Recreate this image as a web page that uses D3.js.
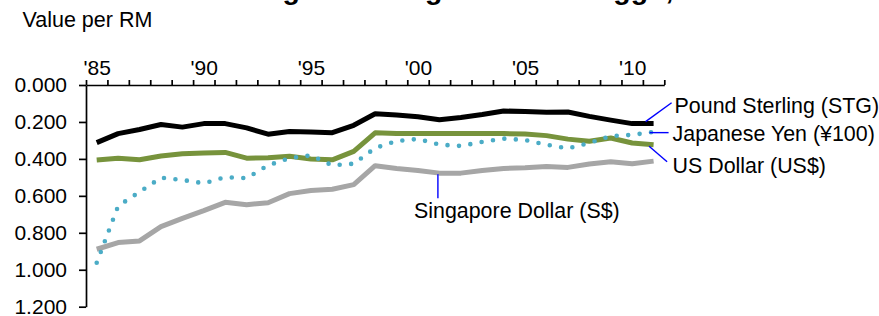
<!DOCTYPE html>
<html>
<head>
<meta charset="utf-8">
<title>Value per RM</title>
<script src="https://cdn.jsdelivr.net/npm/d3@7/dist/d3.min.js"></script>
<style>
  body { margin: 0; background: #fff; }
  svg { display: block; font-family: "Liberation Sans", Arial, sans-serif; }
  .axis path, .axis line { stroke: #000; stroke-width: 1.7; }
  .axis text { font-size: 21px; fill: #000; font-family: "Liberation Sans", Arial, sans-serif; }
  .lbl { font-size: 21.4px; fill: #000; }
  .lead { stroke: #0000ff; stroke-width: 1.4; fill: none; }
</style>
</head>
<body>
<svg width="879" height="316"></svg>
<script>
// years on the x axis
var years = [1985, 1986, 1987, 1988, 1989, 1990, 1991, 1992, 1993, 1994, 1995, 1996, 1997, 1998,
             1999, 2000, 2001, 2002, 2003, 2004, 2005, 2006, 2007, 2008, 2009, 2010, 2011];
var labelYears = [1985, 1990, 1995, 2000, 2005, 2010];
var yTicks = [0, 0.2, 0.4, 0.6, 0.8, 1.0, 1.2];

// foreign currency per RM
var stg = [0.312, 0.263, 0.241, 0.214, 0.228, 0.209, 0.209, 0.232, 0.266, 0.252, 0.254, 0.258, 0.218, 0.156,
           0.163, 0.172, 0.188, 0.176, 0.160, 0.141, 0.143, 0.147, 0.146, 0.170, 0.190, 0.209, 0.209];
var usd = [0.406, 0.396, 0.405, 0.384, 0.372, 0.368, 0.365, 0.396, 0.394, 0.386, 0.400, 0.405, 0.359, 0.259,
           0.263, 0.263, 0.263, 0.263, 0.263, 0.263, 0.265, 0.274, 0.293, 0.304, 0.287, 0.314, 0.323];
var jpy = [0.962, 0.655, 0.579, 0.502, 0.514, 0.532, 0.499, 0.504, 0.435, 0.396, 0.381, 0.435, 0.426, 0.341,
           0.303, 0.292, 0.323, 0.330, 0.308, 0.290, 0.298, 0.323, 0.343, 0.314, 0.276, 0.270, 0.254];
var sgd = [0.889, 0.853, 0.844, 0.767, 0.722, 0.680, 0.635, 0.648, 0.637, 0.588, 0.571, 0.564, 0.539, 0.437,
           0.452, 0.463, 0.477, 0.477, 0.463, 0.452, 0.448, 0.441, 0.446, 0.428, 0.415, 0.426, 0.412];

var svg = d3.select("svg");

var x = d3.scaleLinear().domain([1984.5, 2011.5]).range([86, 664.3]);
var y = d3.scaleLinear().domain([0, 1.2]).range([85, 306.7]);

// title (mostly above the visible area)
svg.append("text")
    .attr("x", 181).attr("y", -1.5)
    .style("font-size", "28.5px").style("font-weight", "bold")
    .text("Exchange Rates against the Ringgit, 1985-2011");

svg.append("text").attr("class", "lbl")
    .attr("x", 22.5).attr("y", 26.5)
    .style("font-size", "21.5px")
    .text("Value per RM");

// y axis
svg.append("g").attr("class", "axis")
    .attr("transform", "translate(" + x.range()[0] + ",0)")
    .call(d3.axisLeft(y).tickValues(yTicks).tickFormat(d3.format(".3f")).tickSize(7).tickSizeOuter(0).tickPadding(12));

// x axis: ticks between years, labels centred on years
var bounds = [];
for (var i = 0; i <= years.length; i++) bounds.push(1984.5 + i);
svg.append("g").attr("class", "axis")
    .attr("transform", "translate(0," + y(0) + ")")
    .call(d3.axisTop(x).tickValues(bounds).tickFormat("").tickSize(5).tickSizeOuter(0));

var xl = svg.append("g").attr("class", "axis")
    .attr("transform", "translate(0," + (y(0) - 10) + ")")
    .call(d3.axisTop(x).tickValues(labelYears).tickSize(0).tickPadding(0)
        .tickFormat(function(d) { return "'" + String(d).slice(2); }));
xl.select(".domain").remove();

function line(vals) {
  return d3.line()
      .x(function(d, i) { return x(years[i]); })
      .y(function(d) { return y(d); })(vals);
}

svg.append("path").attr("d", line(sgd))
    .attr("fill", "none").attr("stroke", "#a6a6a6").attr("stroke-width", 5).attr("stroke-linejoin", "round");
svg.append("path").attr("d", line(usd))
    .attr("fill", "none").attr("stroke", "#77933c").attr("stroke-width", 5).attr("stroke-linejoin", "round");
svg.append("path").attr("d", line(stg))
    .attr("fill", "none").attr("stroke", "#000").attr("stroke-width", 5).attr("stroke-linejoin", "round");
svg.append("path").attr("d", line(jpy))
    .attr("fill", "none").attr("stroke", "#4bacc6").attr("stroke-width", 4.6)
    .attr("stroke-linecap", "round").attr("stroke-dasharray", "0 11.5");

// labels with leader lines
var last = years.length - 1, xe = x(years[last]);
svg.append("line").attr("class", "lead")
    .attr("x1", xe - 8).attr("y1", y(stg[last]) - 2).attr("x2", xe + 18).attr("y2", 102.7);
svg.append("text").attr("class", "lbl").attr("x", xe + 21).attr("y", 112.5).text("Pound Sterling (STG)");

svg.append("line").attr("class", "lead")
    .attr("x1", xe - 4).attr("y1", y(jpy[last]) + 0.7).attr("x2", xe + 15).attr("y2", y(jpy[last]) + 0.7);
svg.append("text").attr("class", "lbl").attr("x", xe + 19).attr("y", 141).text("Japanese Yen (\u00a5100)");

svg.append("line").attr("class", "lead")
    .attr("x1", xe - 4.5).attr("y1", y(usd[last]) + 1.5).attr("x2", xe + 13.5).attr("y2", 161.7);
svg.append("text").attr("class", "lbl").attr("x", xe + 19).attr("y", 172.5).text("US Dollar (US$)");

var si = years.indexOf(2001);
svg.append("line").attr("class", "lead")
    .attr("x1", x(2001) - 1.5).attr("y1", y(sgd[si]) + 1).attr("x2", x(2001) - 1.5).attr("y2", 198.3);
svg.append("text").attr("class", "lbl").attr("x", 414).attr("y", 218).text("Singapore Dollar (S$)");
</script>
</body>
</html>
